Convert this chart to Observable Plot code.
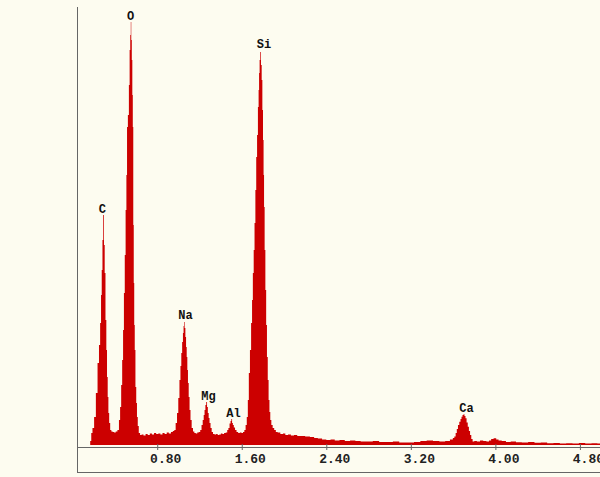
<!DOCTYPE html>
<html>
<head>
<meta charset="utf-8">
<script src="https://cdn.jsdelivr.net/npm/d3@7"></script>
<script src="https://cdn.jsdelivr.net/npm/@observablehq/plot@0.6"></script>
<style>
  html, body { margin: 0; padding: 0; background: #fdfcf0; }
  #chart svg { display: block; }
</style>
</head>
<body>
<div id="chart"></div>
<script>
// Energy channels (keV) and counts
const energyKeV = [
  0.10,0.16,0.172,0.18,0.195,0.211,0.228,0.243,0.255,0.265,0.272,0.278,0.286,0.293,0.300,0.306,0.315,0.322,0.328,0.335,0.341,0.350,0.360,0.372,0.385,0.400,0.415,
  0.432,0.444,0.454,0.464,0.473,0.481,0.489,0.497,0.505,0.512,0.517,0.528,0.536,0.542,0.548,0.552,0.557,0.562,0.567,0.571,0.576,0.580,0.585,0.590,0.598,0.605,0.612,0.620,0.631,0.645,
  0.66,0.68,0.70,0.72,0.74,0.76,0.78,0.80,0.82,0.84,0.86,0.88,0.90,0.92,0.94,0.955,
  0.968,0.981,0.994,1.005,1.016,1.024,1.032,1.040,1.047,1.052,1.056,1.063,1.070,1.076,1.082,1.088,1.094,1.102,1.110,1.120,1.132,1.145,1.158,1.172,1.186,1.200,
  1.214,1.225,1.236,1.244,1.252,1.260,1.268,1.275,1.283,1.291,1.299,1.310,1.321,1.335,1.350,1.365,1.380,1.395,1.410,1.425,1.440,
  1.457,1.468,1.479,1.490,1.498,1.505,1.512,1.520,1.530,1.543,1.558,1.574,1.590,1.605,1.618,
  1.631,1.642,1.653,1.662,1.672,1.683,1.694,1.701,1.709,1.717,1.725,1.733,1.741,1.749,1.757,1.762,1.766,1.772,1.779,1.785,1.792,1.798,1.804,1.809,1.813,1.820,1.827,1.835,1.842,1.850,1.858,1.866,1.874,1.886,1.899,1.915,1.93,
  1.95,1.98,2.00,2.025,2.05,2.08,2.11,2.14,2.18,2.22,2.27,2.30,2.34,2.38,2.42,2.46,2.50,2.55,2.60,2.65,2.70,2.75,2.81,2.87,2.93,3.00,3.06,3.12,3.20,3.26,3.32,3.38,3.44,3.50,3.55,3.59,3.605,
  3.618,3.630,3.640,3.652,3.665,3.675,3.684,3.694,3.703,3.712,3.722,3.733,3.744,3.755,3.766,3.778,3.791,3.81,3.84,3.87,3.90,3.93,3.95,3.97,3.996,4.02,4.04,4.08,4.12,4.17,4.22,4.28,4.34,4.40,4.46,4.52,4.58,4.64,4.70,4.76,4.82,4.88,4.94,4.99
];
const counts = [
  0,0,40,120,170,280,520,820,1000,1220,1500,1750,2050,2300,2000,1720,1250,950,680,480,320,220,150,135,130,125,135,
  150,250,380,600,850,1150,1520,1900,2350,2700,3180,3300,3600,3950,4100,4230,4050,3850,3500,3180,2200,1620,1200,950,580,420,280,190,120,100,
  105,95,110,100,115,105,120,110,115,105,120,110,125,115,130,140,
  150,220,320,470,650,790,920,1030,1120,1190,1230,1170,1080,980,880,750,620,480,350,250,170,135,120,115,125,130,
  150,200,250,300,350,400,430,380,320,270,220,170,130,110,105,110,100,105,115,110,120,
  125,150,170,215,240,260,220,200,175,150,130,120,125,120,130,
  150,200,280,450,720,950,1220,1450,1720,1950,2220,2550,2880,3100,3380,3550,3720,3850,3930,3800,3650,3350,3050,2700,2380,1950,1550,1200,880,650,450,330,250,200,170,150,130,
  125,110,115,100,105,95,100,90,90,85,80,70,65,55,50,55,45,50,40,45,40,35,35,40,30,30,35,25,25,30,40,45,40,35,40,55,70,
  85,120,160,200,233,260,283,300,307,290,267,225,183,140,100,60,35,40,35,45,40,35,45,60,67,55,45,40,30,35,28,25,30,22,25,18,20,15,18,15,20,15,18,15
];

// Peak labels
const peakNames = ["C", "O", "Na", "Mg", "Al", "Si", "Ca"];
const peakLabelEnergy = [0.275, 0.543, 1.063, 1.281, 1.517, 1.806, 3.722];
const peakLabelCounts = [2360, 4290, 1300, 493, 323, 4010, 373];

// X-axis ticks
const tickValues = [0.80, 1.60, 2.40, 3.20, 4.00, 4.80];

const spectrum = energyKeV.map((e, i) => ({energy: e, counts: counts[i]}));
const labels = peakNames.map((n, i) => ({name: n, energy: peakLabelEnergy[i], counts: peakLabelCounts[i]}));

const xMin = 0.041, xMax = 4.99;
const frameColor = "#666";
const mono = "'Liberation Mono', 'DejaVu Sans Mono', monospace";

const chart = Plot.plot({
  width: 600,
  height: 477,
  marginTop: 7,
  marginBottom: 32,
  marginLeft: 77,
  marginRight: 0,
  style: {background: "#fdfcf0", overflow: "visible"},
  x: {domain: [xMin, xMax], axis: null},
  y: {domain: [0, 4380], axis: null},
  marks: [
    Plot.areaY(spectrum, {x: "energy", y: "counts", curve: "step", fill: "#cc0000", clip: true}),
    // axis line and frame
    Plot.ruleY([-20], {x1: xMin, x2: xMax, stroke: frameColor, strokeWidth: 1}),
    Plot.ruleY([-270], {x1: xMin, x2: xMax, stroke: frameColor, strokeWidth: 1}),
    Plot.ruleX([xMin], {y1: -270, y2: 4380, stroke: frameColor, strokeWidth: 1}),
    Plot.ruleX(tickValues, {y1: 10, y2: -50, stroke: frameColor, strokeWidth: 1}),
    Plot.text(tickValues, {x: d => d, y: -130, dx: 8, text: d => d3.format(".2f")(d),
      fontFamily: mono, fontWeight: "bold", fontSize: 13, fill: "#222"}),
    Plot.text(labels, {x: "energy", y: "counts", text: "name",
      fontFamily: mono, fontWeight: "bold", fontSize: 12, fill: "#111"})
  ]
});
document.getElementById("chart").appendChild(chart);
</script>
</body>
</html>
